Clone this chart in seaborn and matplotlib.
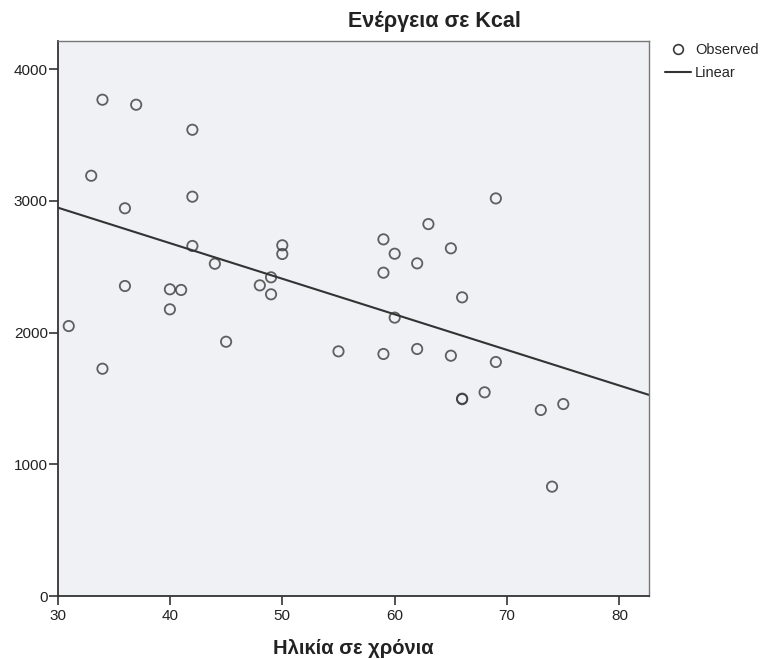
import matplotlib
matplotlib.use("Agg")
import matplotlib.pyplot as plt
from matplotlib.lines import Line2D
import seaborn as sns
import pandas as pd

# Age (years) and daily energy intake (kcal) per participant
age = [34, 37, 42, 33, 42, 36, 42, 44, 50, 50, 49, 48, 49, 36, 40, 41, 40, 31, 45, 34,
       69, 63, 59, 60, 65, 62, 59, 66, 60, 55, 59, 62, 65, 69, 66, 66, 68, 73, 75, 74]
energy = [3767, 3729, 3539, 3190, 3031, 2943, 2657, 2522, 2662, 2596, 2419, 2358, 2290,
          2353, 2328, 2323, 2176, 2049, 1930, 1725,
          3018, 2823, 2707, 2598, 2639, 2525, 2454, 2267, 2113, 1857, 1837, 1875, 1824,
          1776, 1498, 1494, 1546, 1412, 1457, 830]

x_ticks = [30, 40, 50, 60, 70, 80]
y_ticks = [0, 1000, 2000, 3000, 4000]

df = pd.DataFrame({"age": age, "energy": energy})

sns.set_style("white")
plt.rcParams["font.family"] = ["Liberation Sans", "DejaVu Sans"]

fig = plt.figure(figsize=(7.62, 6.59), dpi=100)
ax = fig.add_axes([57.5 / 762, 63 / 659, (648.7 - 57.5) / 762, (596 - 40.7) / 659])
ax.set_facecolor("#F0F1F4")
ax.set_xlim(30, 82.6)
ax.set_ylim(0, 4215)

ink = "#333333"
sns.regplot(data=df, x="age", y="energy", ax=ax, ci=None, truncate=False,
            scatter_kws=dict(s=55, facecolors="none", edgecolors="#3a3a3a", linewidths=1.3),
            line_kws=dict(color=ink, lw=1.5))

ax.set_xticks(x_ticks)
ax.set_yticks(y_ticks)
ax.tick_params(axis="both", direction="out", length=6.5, width=1.2, color=ink,
               labelsize=11, labelcolor="#222222", bottom=True, left=True)
ax.tick_params(axis="x", pad=2.5)
ax.tick_params(axis="y", pad=0.5)
for side, sp in ax.spines.items():
    sp.set_color(ink)
    sp.set_linewidth(1.3 if side in ("left", "bottom") else 1.0)
ax.spines["top"].set_color("#777777")
ax.spines["right"].set_color("#777777")
ax.set_xlabel("")
ax.set_ylabel("")

fig.text(434 / 762, 1 - 21 / 659, "Ενέργεια σε Kcal", ha="center", va="center",
         fontsize=15.5, fontweight="bold", color="#222222")
fig.text(353 / 762, 1 - 648 / 659, "Ηλικία σε χρόνια", ha="center", va="center",
         fontsize=14.5, fontweight="bold", color="#222222")

handles = [
    Line2D([], [], marker="o", linestyle="none", markerfacecolor="none",
           markeredgecolor="#3a3a3a", markersize=7, markeredgewidth=1.2),
    Line2D([], [], color=ink, lw=1.5),
]
fig.legend(handles, ["Observed", "Linear"], loc="upper left",
           bbox_to_anchor=(665 / 762, 1 - 43 / 659), frameon=False, fontsize=10.5,
           handlelength=1.75, handletextpad=0.3, labelspacing=0.65, borderaxespad=0,
           borderpad=0)

fig.savefig("out.png", dpi=100)
